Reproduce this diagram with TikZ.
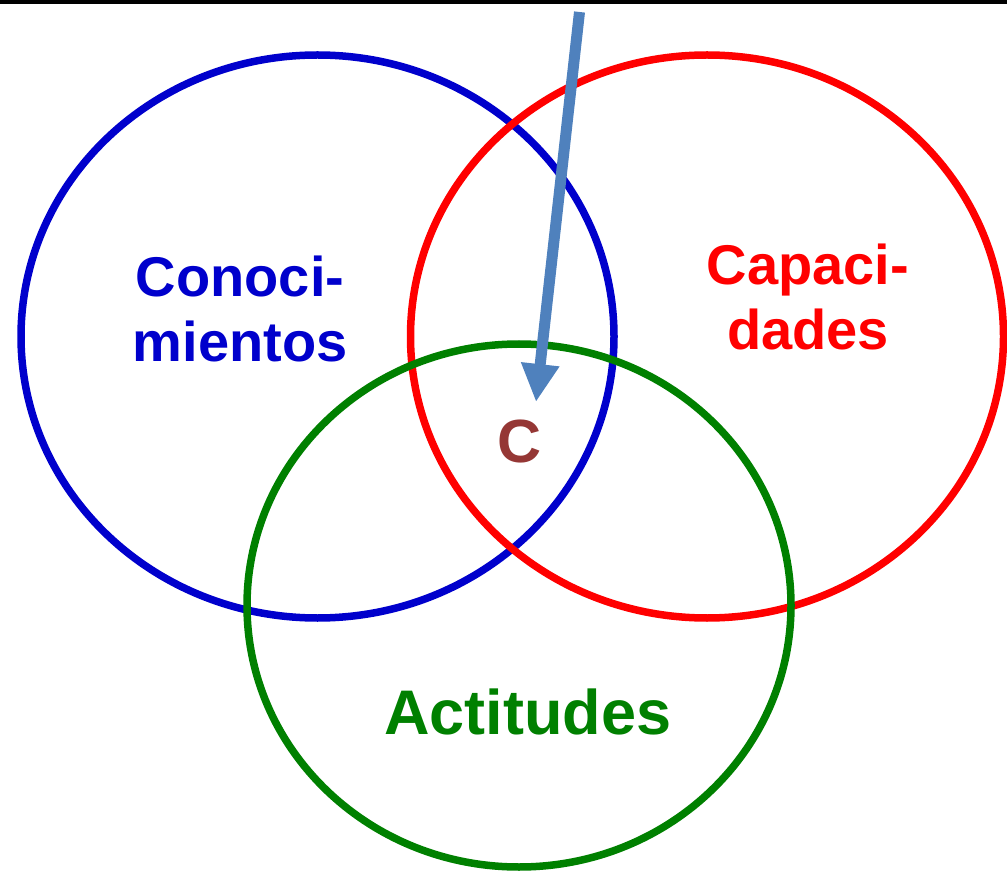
\documentclass[tikz,border=0pt]{standalone}
\usepackage{fontspec}
\setmainfont{Liberation Sans}
\usetikzlibrary{arrows.meta}
\definecolor{cblue}{HTML}{0000CC}
\definecolor{cred}{HTML}{FF0000}
\definecolor{cgreen}{HTML}{008000}
\definecolor{carrow}{HTML}{4F81BD}
\definecolor{cbrown}{HTML}{953735}
\tikzset{
  ring/.style={line width=7.5pt},
  lbl/.style={font=\bfseries\fontsize{56}{65}\selectfont, align=center, inner sep=0pt, anchor=base},
  pointer/.style={draw=carrow, line width=11pt, -{Triangle[width=36pt,length=38pt]}}
}
\begin{document}
\begin{tikzpicture}[x=1pt,y=-1pt]
\useasboundingbox (0,0) rectangle (1007,874);
\coordinate (tl) at (0,2);
\coordinate (tr) at (1007,2);
\draw[line width=4pt, black] (tl) -- (tr);
\draw[ring, cblue] (317.5,336.5) ellipse [x radius=296.5, y radius=281.5];
\draw[ring, cred] (707,336.5) ellipse [x radius=296.5, y radius=281.5];
\draw[ring, cgreen] (519,605.5) ellipse [x radius=272, y radius=261.5];
\node[lbl, text=cblue] (con) at (240,362) {Conoci-\\mientos};
\node[lbl, text=cred] (cap) at (808,350) {Capaci-\\dades};
\node[lbl, text=cgreen, font=\bfseries\fontsize{63}{70}\selectfont] (act) at (528,734) {Actitudes};
\node[lbl, text=cbrown, font=\bfseries\fontsize{61}{70}\selectfont] (c) at (520,463) {C};
\coordinate (arrtop) at (579.5,12);
\coordinate (arrtip) at (536,402);
\draw[pointer] (arrtop) -- (arrtip);
\end{tikzpicture}
\end{document}
